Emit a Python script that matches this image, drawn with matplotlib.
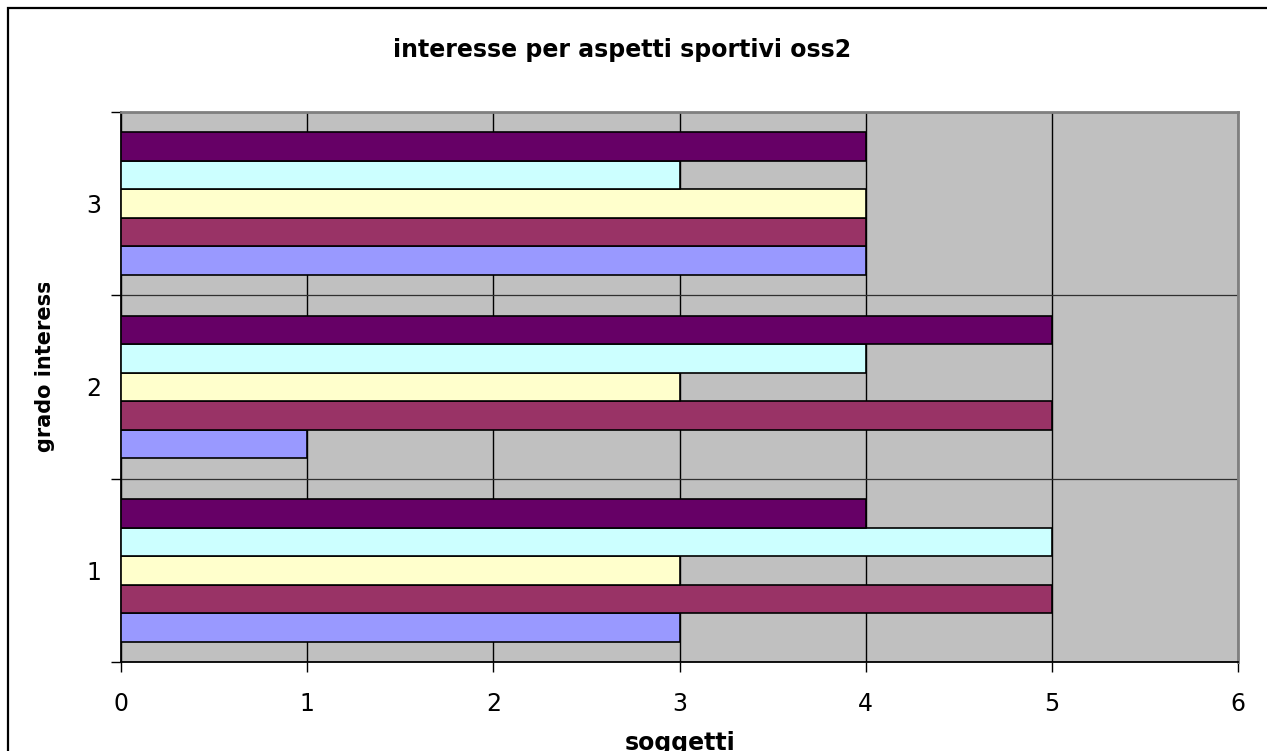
import matplotlib
matplotlib.use("Agg")
import matplotlib.pyplot as plt
from matplotlib.patches import Rectangle
from matplotlib.transforms import Bbox
import numpy as np

# Data
categories = [1, 2, 3]
series_a = [3, 1, 4]
series_b = [5, 5, 4]
series_c = [3, 3, 4]
series_d = [5, 4, 3]
series_e = [4, 5, 4]
series_colors = ["#9999FF", "#993366", "#FFFFCC", "#CCFFFF", "#660066"]
x_ticks = [0, 1, 2, 3, 4, 5, 6]

title = "interesse per aspetti sportivi oss2"
x_title = "soggetti"
y_title = "grado interesse"

W, H = 1267, 751
fig = plt.figure(figsize=(W / 100, H / 100), dpi=100)
fig.patch.set_facecolor("white")

# Plot area in pixel coordinates (left, top, right, bottom)
L, T, R, B = 121, 112, 1238, 662
ax = fig.add_axes([L / W, (H - B) / H, (R - L) / W, (B - T) / H])
ax.set_facecolor("#C0C0C0")

bar_h = 0.1555
all_series = [series_a, series_b, series_c, series_d, series_e]
ypos = np.array(categories, dtype=float)
for i, (vals, col) in enumerate(zip(all_series, series_colors)):
    ax.barh(ypos + (i - 2) * bar_h, vals, height=bar_h, color=col,
            edgecolor="black", linewidth=1.2, zorder=3)

ax.set_xlim(0, 6)
ax.set_ylim(0.5, 3.5)
ax.set_axisbelow(True)

# x axis: integer ticks with black vertical gridlines
ax.set_xticks(x_ticks)
ax.set_xticklabels([str(v) for v in x_ticks])
ax.xaxis.grid(True, color="black", linewidth=1.0)
ax.tick_params(axis="x", direction="out", length=7, width=1.0,
               labelsize=17, pad=14.5, colors="black")

# y axis: labels at category centres, ticks and gridlines between categories
ax.set_yticks(categories)
ax.set_yticklabels([str(c) for c in categories])
ax.set_yticks([0.5, 1.5, 2.5, 3.5], minor=True)
ax.tick_params(axis="y", which="major", length=0, labelsize=17, pad=14)
ax.tick_params(axis="y", which="minor", direction="out", length=7, width=1.0)
ax.yaxis.grid(True, which="minor", color="#303030", linewidth=0.9)

for side in ("left", "bottom"):
    ax.spines[side].set_color("black")
    ax.spines[side].set_linewidth(1.3)
for side in ("top", "right"):
    ax.spines[side].set_color("#808080")
    ax.spines[side].set_linewidth(2.0)

# Chart frame
fig.patches.append(Rectangle((8 / W, -0.1), 1.2, (H - 8) / H + 0.1,
                             transform=fig.transFigure, fill=False,
                             edgecolor="black", linewidth=1.6, zorder=10))

# Titles
fig.text(622 / W, (H - 50) / H, title, ha="center", va="center",
         fontsize=17, fontweight="bold", color="black")
fig.text(680 / W, (H - 750) / H, x_title, ha="center", va="baseline",
         fontsize=17, fontweight="bold", color="black")
ylab = fig.text(45 / W, (H - 452) / H, y_title, ha="center", va="bottom",
                rotation=90, fontsize=15, fontweight="bold", color="black")
ylab.set_clip_box(Bbox.from_extents(0, 0, W, H - 283))
ylab.set_clip_on(True)

fig.savefig("out.png", dpi=100)
